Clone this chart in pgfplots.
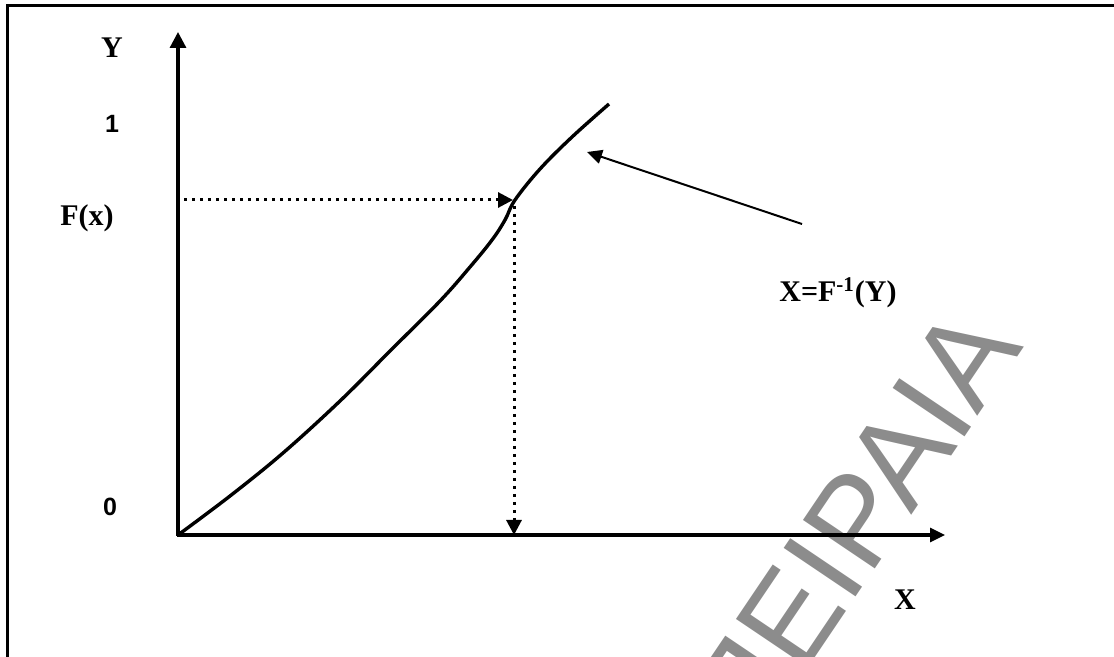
\documentclass[border=0pt]{standalone}
\usepackage{fontspec}
\setmainfont{Liberation Serif}
\newfontfamily\arialfont{Liberation Sans}
\usepackage{pgfplots}
\pgfplotsset{compat=1.18}
\usetikzlibrary{arrows.meta}
\definecolor{wm}{RGB}{140,140,140}
\begin{document}
\begin{tikzpicture}
\begin{axis}[width=557pt,height=328.5pt,scale only axis,axis lines=none,
  xmin=0,xmax=1114,ymin=0,ymax=657,y dir=reverse,clip=false]
\coordinate (BL) at (axis cs:0,657);
\coordinate (TR) at (axis cs:1114,0);
% watermark
\begin{scope}
\clip (axis cs:0,0) rectangle (axis cs:1114,657);
\node[anchor=base east,rotate=56,inner sep=0pt,text=wm,
  font=\arialfont\fontsize{63}{63}\selectfont] at (axis cs:1025,347) {ΠΕΙΡΑΙΑ};
\end{scope}
% frame
\draw[line width=1.5pt] (axis cs:7,657) -- (axis cs:7,5.5) -- (axis cs:1114,5.5);
% axes
\addplot[line width=1.6pt,-{Triangle[length=8pt,width=8pt]}] coordinates {(178,536) (178,32)};
\addplot[line width=1.6pt,-{Triangle[length=7.5pt,width=7pt]}] coordinates {(177,535) (945,535)};
% curve
\addplot[line width=1.7pt,smooth,tension=0.6] coordinates {
(178,535) (230,496) (283,453) (340,401) (390,351) (440,301) (470,267)
(492,240) (505,220) (515,200) (540,169) (572,137) (609,104)};
% dotted guides
\addplot[line width=1.5pt,dash pattern=on 1.5pt off 2.5pt,-{Triangle[length=7.5pt,width=7.5pt]}]
  coordinates {(184,200) (513,200)};
\addplot[line width=1.5pt,dash pattern=on 1.5pt off 2.5pt,-{Triangle[length=7.5pt,width=7.5pt]}]
  coordinates {(514,206) (514,535)};
% pointer
\addplot[line width=1pt,-{Triangle[length=7.5pt,width=7pt]}] coordinates {(802,224) (587,152)};
% labels
\node[font=\bfseries\fontsize{15}{18}\selectfont] at (axis cs:112,48) {Y};
\node[font=\arialfont\bfseries\fontsize{12.5}{15}\selectfont] at (axis cs:112,124) {1};
\node[font=\bfseries\fontsize{15}{18}\selectfont] at (axis cs:87,218) {F(x)};
\node[font=\arialfont\bfseries\fontsize{12.5}{15}\selectfont] at (axis cs:110,507) {0};
\node[font=\bfseries\fontsize{15}{18}\selectfont] at (axis cs:905,600) {X};
\node[font=\bfseries\fontsize{15}{18}\selectfont] at (axis cs:838,293) {X=F\textsuperscript{-1}(Y)};
\end{axis}
\pgfresetboundingbox
\path[use as bounding box] (BL) rectangle (TR);
\end{tikzpicture}
\end{document}
